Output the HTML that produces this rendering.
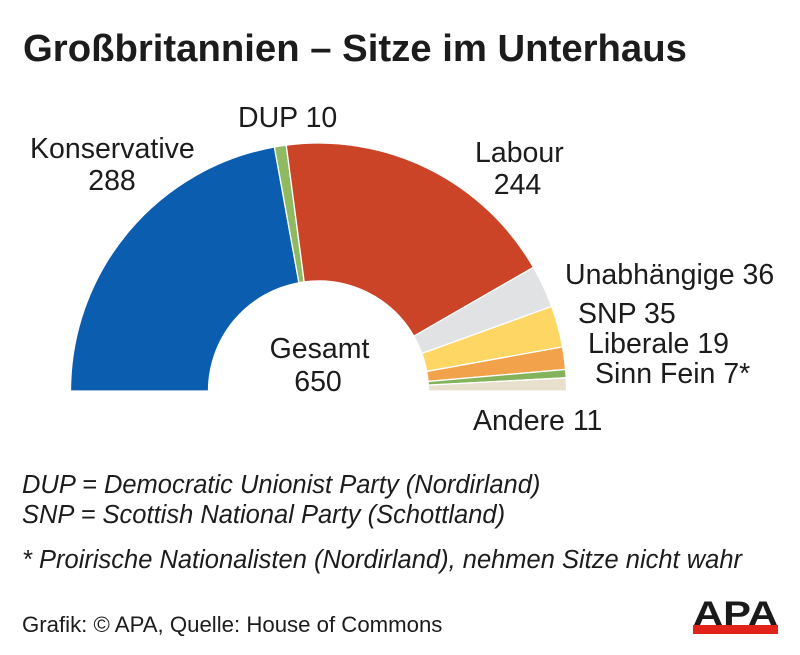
<!DOCTYPE html>
<html>
<head>
<meta charset="utf-8">
<style>
  html, body { margin: 0; padding: 0; background: #ffffff; }
  svg { display: block; }
  text { font-family: "Liberation Sans", Arial, sans-serif; fill: #1c1c1c; }
</style>
</head>
<body>
<svg width="800" height="655" viewBox="0 0 800 655" xmlns="http://www.w3.org/2000/svg">
  <rect x="0" y="0" width="800" height="655" fill="#ffffff"/>

  <!-- Title -->
  <text x="23" y="61" font-size="38.3" font-weight="bold">Großbritannien – Sitze im Unterhaus</text>

  <!-- Half donut segments -->
  <g stroke="#ffffff" stroke-width="1.3" stroke-linejoin="round">
    <!-- Konservative 288 -->
    <path d="M70.5,391 A248,248 0 0 1 274.38,146.96 L298.93,282.75 A110,110 0 0 0 208.5,391 Z" fill="#0b5db0"/>
    <!-- DUP 10 -->
    <path d="M274.38,146.96 A248,248 0 0 1 286.23,145.11 L304.19,281.93 A110,110 0 0 0 298.93,282.75 Z" fill="#8fba62"/>
    <!-- Labour 244 -->
    <path d="M286.23,145.11 A248,248 0 0 1 533.47,267.34 L413.85,336.15 A110,110 0 0 0 304.19,281.93 Z" fill="#cc4428"/>
    <!-- Unabhaengige 36 -->
    <path d="M533.47,267.34 A248,248 0 0 1 551.63,306.43 L421.91,353.49 A110,110 0 0 0 413.85,336.15 Z" fill="#e1e2e4"/>
    <!-- SNP 35 -->
    <path d="M551.63,306.43 A248,248 0 0 1 562.54,346.88 L426.75,371.43 A110,110 0 0 0 421.91,353.49 Z" fill="#fdd664"/>
    <!-- Liberale 19 -->
    <path d="M562.54,346.88 A248,248 0 0 1 565.56,369.45 L428.08,381.44 A110,110 0 0 0 426.75,371.43 Z" fill="#f3a24c"/>
    <!-- Sinn Fein 7 -->
    <path d="M565.56,369.45 A248,248 0 0 1 566.15,377.82 L428.34,385.15 A110,110 0 0 0 428.08,381.44 Z" fill="#84b35c"/>
    <!-- Andere 11 -->
    <path d="M566.15,377.82 A248,248 0 0 1 566.5,391 L428.5,391 A110,110 0 0 0 428.34,385.15 Z" fill="#e8e0cc"/>
  </g>

  <!-- Labels -->
  <g font-size="28.5">
    <text x="30" y="158">Konservative</text>
    <text x="112" y="190" text-anchor="middle">288</text>
    <text x="238" y="127">DUP 10</text>
    <text x="475" y="162">Labour</text>
    <text x="517.5" y="194" text-anchor="middle">244</text>
    <text x="565" y="284">Unabhängige 36</text>
    <text x="578" y="323">SNP 35</text>
    <text x="588" y="353">Liberale 19</text>
    <text x="595" y="383">Sinn Fein 7*</text>
    <text x="473" y="430">Andere 11</text>
    <text x="319.5" y="358" text-anchor="middle">Gesamt</text>
    <text x="318" y="391" text-anchor="middle">650</text>
  </g>

  <!-- Footnotes -->
  <g font-size="25.5" font-style="italic">
    <text x="22" y="493">DUP = Democratic Unionist Party (Nordirland)</text>
    <text x="22" y="523">SNP = Scottish National Party (Schottland)</text>
    <text x="22" y="568">* Proirische Nationalisten (Nordirland), nehmen Sitze nicht wahr</text>
  </g>

  <!-- Source -->
  <text x="22" y="632" font-size="22.2">Grafik: © APA, Quelle: House of Commons</text>

  <!-- APA logo -->
  <text x="693" y="625" font-size="34" font-weight="bold" textLength="85" lengthAdjust="spacingAndGlyphs" style="fill:#1a1a1a">APA</text>
  <rect x="693" y="625" width="85" height="9" fill="#e2231a"/>
</svg>
</body>
</html>
